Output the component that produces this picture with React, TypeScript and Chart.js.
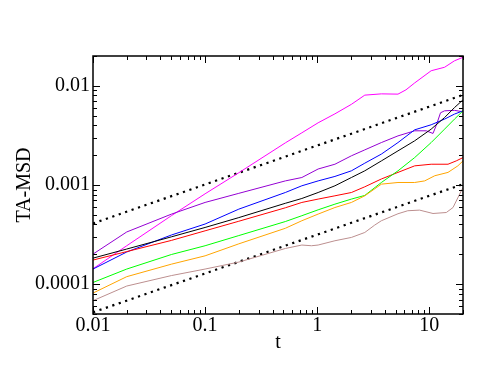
import { useEffect, useRef } from "react";
import { Chart, registerables } from "chart.js";

Chart.register(...registerables);

// Axis ranges and tick labels
const X_MIN = 0.01;
const X_MAX = 20;
const Y_MIN = 5e-5;
const Y_MAX = 0.02;
const xTickValues = [0.01, 0.1, 1, 10];
const xTickLabels = ["0.01", "0.1", "1", "10"];
const yTickValues = [0.0001, 0.001, 0.01];
const yTickLabels = ["0.0001", "0.001", "0.01"];
const xTitle = "t";
const yTitle = "TA-MSD";

// Series (t, TA-MSD)
const magentaT = [0.01, 0.02, 0.05, 0.1, 0.2, 0.52, 0.73, 1.02, 1.44, 2.02, 2.66, 3.74, 5.26, 6.2, 7.41, 10.4, 13.7, 16.8, 20];
const magentaV = [1.43e-4, 2.44e-4, 4.9e-4, 8.15e-4, 1.33e-3, 2.66e-3, 3.36e-3, 4.24e-3, 5.22e-3, 6.51e-3, 8.06e-3, 8.3e-3, 8.25e-3, 9.12e-3, 1.07e-2, 1.42e-2, 1.54e-2, 1.79e-2, 1.94e-2];

const purpleT = [0.01, 0.02, 0.05, 0.1, 0.2, 0.52, 0.73, 1.02, 1.44, 2.02, 2.66, 3.74, 5.26, 7.41, 9.4, 10.8, 11.6, 12.6, 13.7, 16.8, 20];
const purpleV = [2.01e-4, 3.36e-4, 5.08e-4, 6.67e-4, 8.24e-4, 1.1e-3, 1.19e-3, 1.45e-3, 1.62e-3, 1.97e-3, 2.26e-3, 2.68e-3, 3.13e-3, 3.52e-3, 3.52e-3, 3.31e-3, 4.05e-3, 5.35e-3, 5.6e-3, 5.66e-3, 5.47e-3];

const blueT = [0.01, 0.02, 0.05, 0.1, 0.2, 0.52, 0.73, 1.02, 1.44, 2.02, 2.66, 3.74, 5.26, 7.41, 10.4, 13.7, 16.8, 20];
const blueV = [1.42e-4, 2.11e-4, 3.13e-4, 4.04e-4, 5.71e-4, 8.4e-4, 9.82e-4, 1.1e-3, 1.22e-3, 1.39e-3, 1.66e-3, 2.05e-3, 2.68e-3, 3.6e-3, 4.05e-3, 4.62e-3, 5.19e-3, 5.6e-3];

const blackT = [0.01, 0.02, 0.05, 0.1, 0.2, 0.52, 0.73, 1.02, 1.44, 2.02, 2.66, 3.74, 5.26, 7.41, 10.4, 13.7, 16.8, 20];
const blackV = [1.83e-4, 2.26e-4, 3.0e-4, 3.73e-4, 4.69e-4, 6.54e-4, 7.31e-4, 8.4e-4, 9.82e-4, 1.19e-3, 1.39e-3, 1.75e-3, 2.21e-3, 2.79e-3, 3.66e-3, 4.79e-3, 6.04e-3, 7.22e-3];

const redT = [0.01, 0.02, 0.05, 0.1, 0.2, 0.52, 0.73, 1.02, 1.44, 2.02, 2.66, 3.74, 5.26, 7.41, 10.4, 14.7, 17.4, 20];
const redV = [1.75e-4, 2.13e-4, 2.76e-4, 3.45e-4, 4.31e-4, 5.89e-4, 6.67e-4, 7.21e-4, 7.78e-4, 8.4e-4, 9.59e-4, 1.15e-3, 1.34e-3, 1.56e-3, 1.62e-3, 1.62e-3, 1.75e-3, 1.89e-3];

const greenT = [0.01, 0.02, 0.05, 0.1, 0.2, 0.52, 0.73, 1.02, 1.44, 2.02, 2.66, 3.74, 5.26, 7.41, 10.4, 13.7, 16.8, 20];
const greenV = [1.04e-4, 1.42e-4, 1.99e-4, 2.44e-4, 3.09e-4, 4.28e-4, 4.9e-4, 5.62e-4, 6.41e-4, 7.21e-4, 7.85e-4, 1.06e-3, 1.39e-3, 1.89e-3, 2.68e-3, 3.66e-3, 4.62e-3, 5.6e-3];

const orangeT = [0.01, 0.02, 0.05, 0.1, 0.2, 0.52, 0.73, 1.02, 1.44, 2.02, 2.66, 3.74, 5.26, 7.41, 9.1, 11.2, 14.7, 18.0, 20];
const orangeV = [8.13e-5, 1.19e-4, 1.59e-4, 1.93e-4, 2.55e-4, 3.66e-4, 4.36e-4, 5.09e-4, 5.93e-4, 6.67e-4, 7.78e-4, 1.02e-3, 1.06e-3, 1.06e-3, 1.1e-3, 1.24e-3, 1.34e-3, 1.56e-3, 1.75e-3];

const brownT = [0.01, 0.02, 0.05, 0.1, 0.2, 0.52, 0.73, 0.89, 1.02, 1.44, 2.02, 2.66, 3.26, 3.74, 5.26, 6.43, 8.2, 10.8, 14.2, 16.3, 19.3, 20];
const brownV = [6.81e-5, 9.57e-5, 1.22e-4, 1.42e-4, 1.67e-4, 2.29e-4, 2.48e-4, 2.44e-4, 2.48e-4, 2.74e-4, 2.96e-4, 3.32e-4, 3.94e-4, 4.36e-4, 5.13e-4, 5.5e-4, 5.58e-4, 5.16e-4, 5.28e-4, 5.93e-4, 8.74e-4, 9.37e-4];

// Dotted power-law guide lines
const upperGuideT = [0.01, 20];
const upperGuideV = [4.1e-4, 8.1e-3];
const lowerGuideT = [0.01, 20];
const lowerGuideV = [5.2e-5, 1.02e-3];

const FONT = "'Liberation Serif', 'Times New Roman', Times, serif";

const pts = (t: number[], v: number[]) => t.map((x, i) => ({ x, y: v[i] }));

const framePlugin = {
  id: "frame",
  afterDatasetsDraw(chart: any) {
    const { ctx, chartArea, scales } = chart;
    const { left, right, top, bottom } = chartArea;
    const xs = scales.x;
    const ys = scales.y;
    ctx.save();
    ctx.strokeStyle = "#000";
    ctx.lineWidth = 1.5;
    ctx.strokeRect(left, top, right - left, bottom - top);
    ctx.lineWidth = 1;
    ctx.beginPath();
    for (let d = -3; d <= 2; d++) {
      for (let k = 1; k <= 9; k++) {
        const v = k * Math.pow(10, d);
        if (v < X_MIN * 0.999 || v > X_MAX * 1.001) continue;
        const p = Math.round(xs.getPixelForValue(v)) + 0.5;
        const len = k === 1 ? 7 : 4;
        ctx.moveTo(p, bottom);
        ctx.lineTo(p, bottom - len);
        ctx.moveTo(p, top);
        ctx.lineTo(p, top + len);
      }
    }
    for (let d = -6; d <= -1; d++) {
      for (let k = 1; k <= 9; k++) {
        const v = k * Math.pow(10, d);
        if (v < Y_MIN * 0.999 || v > Y_MAX * 1.001) continue;
        const p = Math.round(ys.getPixelForValue(v)) + 0.5;
        const len = k === 1 ? 7 : 4;
        ctx.moveTo(left, p);
        ctx.lineTo(left + len, p);
        ctx.moveTo(right, p);
        ctx.lineTo(right - len, p);
      }
    }
    ctx.stroke();
    ctx.restore();
  },
};

export default function App() {
  const ref = useRef<HTMLCanvasElement | null>(null);

  useEffect(() => {
    if (!ref.current) return;
    const line = (t: number[], v: number[], color: string) => ({
      data: pts(t, v),
      borderColor: color,
      backgroundColor: color,
      borderWidth: 1,
      pointRadius: 0,
      tension: 0,
      fill: false,
    });
    const dotted = (t: number[], v: number[]) => ({
      data: pts(t, v),
      borderColor: "#000",
      borderWidth: 2.2,
      borderDash: [2.2, 4.6],
      borderCapStyle: "butt",
      pointRadius: 0,
      fill: false,
    });
    const chart = new Chart(ref.current, {
      type: "line",
      data: {
        datasets: [
          line(brownT, brownV, "#bc8f8f"),
          line(orangeT, orangeV, "#ffa500"),
          line(greenT, greenV, "#00ff00"),
          line(redT, redV, "#ff0000"),
          line(blackT, blackV, "#000000"),
          line(blueT, blueV, "#0000ff"),
          line(purpleT, purpleV, "#9400d3"),
          line(magentaT, magentaV, "#ff00ff"),
          dotted(upperGuideT, upperGuideV),
          dotted(lowerGuideT, lowerGuideV),
        ] as any,
      },
      options: {
        animation: false,
        responsive: false,
        devicePixelRatio: 1,
        layout: { padding: { left: 0, top: 56, right: 17, bottom: 0 } },
        plugins: { legend: { display: false }, tooltip: { enabled: false } },
        scales: {
          x: {
            type: "logarithmic",
            min: X_MIN,
            max: X_MAX,
            grid: { display: false, drawTicks: false },
            border: { display: false },
            afterBuildTicks: (s: any) => {
              s.ticks = xTickValues.map((value) => ({ value }));
            },
            afterFit: (s: any) => {
              s.height = 57;
            },
            ticks: {
              autoSkip: false,
              maxRotation: 0,
              padding: 0,
              color: "#000",
              font: { family: FONT, size: 20 },
              callback: (v: any) => {
                const i = xTickValues.findIndex((t) => Math.abs(t - v) < t * 1e-6);
                return i >= 0 ? xTickLabels[i] : "";
              },
            },
            title: {
              display: true,
              text: xTitle,
              color: "#000",
              font: { family: FONT, size: 20 },
              padding: { top: 0, bottom: 16 },
            },
          },
          y: {
            type: "logarithmic",
            min: Y_MIN,
            max: Y_MAX,
            grid: { display: false, drawTicks: false },
            border: { display: false },
            afterBuildTicks: (s: any) => {
              s.ticks = yTickValues.map((value) => ({ value }));
            },
            afterFit: (s: any) => {
              s.width = 93;
            },
            ticks: {
              autoSkip: false,
              padding: 3,
              color: "#000",
              font: { family: FONT, size: 20 },
              callback: (v: any) => {
                const i = yTickValues.findIndex((t) => Math.abs(t - v) < t * 1e-6);
                return i >= 0 ? yTickLabels[i] : "";
              },
            },
            title: {
              display: true,
              text: yTitle,
              color: "#000",
              font: { family: FONT, size: 20 },
              padding: { top: 13, bottom: 0 },
            },
          },
        },
      },
      plugins: [framePlugin],
    } as any);
    return () => chart.destroy();
  }, []);

  return (
    <div style={{ position: "absolute", left: 0, top: 0, width: 480, height: 371, background: "#fff" }}>
      <canvas ref={ref} width={480} height={371} style={{ display: "block", width: 480, height: 371 }} />
    </div>
  );
}
